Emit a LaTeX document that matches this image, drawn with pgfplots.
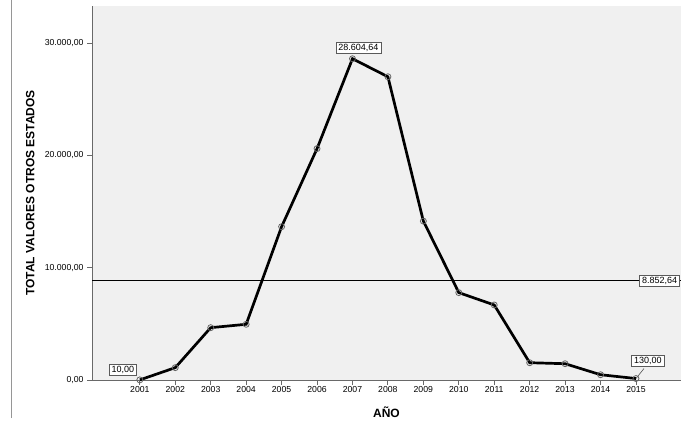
\documentclass[border=0pt]{standalone}
\usepackage{pgfplots}
\pgfplotsset{compat=1.18}
\usepackage{fontspec}
\setmainfont{Liberation Sans}
\definecolor{bggray}{RGB}{240,240,240}
\definecolor{axgray}{RGB}{105,105,105}
\definecolor{mkgray}{RGB}{100,100,100}
\definecolor{boxgray}{RGB}{90,90,90}
\begin{document}
\begin{tikzpicture}
\useasboundingbox (0,0) rectangle (681pt,429pt);
\draw[axgray!70, line width=0.8pt] (11pt,11pt) -- (11pt,429pt);
\begin{axis}[
  at={(92pt,49pt)}, anchor=south west,
  scale only axis, width=589pt, height=374pt,
  xmin=1999.65, xmax=2016.27, ymin=0, ymax=33300,
  axis x line*=bottom, axis y line*=left,
  axis line style={axgray, line width=0.8pt, -},
  axis background/.style={fill=bggray},
  clip=false,
  xtick={2001,2002,...,2015},
  ytick={0,10000,20000,30000},
  tick align=outside,
  major tick length=5pt,
  tick style={axgray, line width=0.8pt},
  scaled y ticks=false,
  /pgf/number format/assume math mode=true,
  ticklabel style={font=\fontsize{8.7}{10}\selectfont},
  xticklabel style={/pgf/number format/1000 sep={}, inner sep=1pt},
  yticklabel style={/pgf/number format/.cd, fixed, fixed zerofill, precision=2, use comma, 1000 sep={.}},
  ylabel={\textbf{TOTAL VALORES OTROS ESTADOS}},
  xlabel={\textbf{AÑO}},
  label style={font=\fontsize{12}{14}\selectfont},
  ylabel style={at={(axis description cs:-0.105,0.5)}, anchor=center},
  xlabel style={at={(axis description cs:0.5,-0.0856)}, anchor=center},
]
\addplot[black, line width=1.2pt] coordinates {(1999.65,8852.64) (2016.27,8852.64)};
\addplot[black, line width=2.7pt, mark=o, mark size=3pt,
  mark options={draw=mkgray, line width=0.8pt, fill=none}] coordinates {
  (2001,10) (2002,1100) (2003,4660) (2004,4960) (2005,13650)
  (2006,20600) (2007,28604.64) (2008,27000) (2009,14150) (2010,7780)
  (2011,6680) (2012,1540) (2013,1450) (2014,470) (2015,130)};
\tikzset{lbl/.style={draw=boxgray, fill=white, line width=0.6pt, inner xsep=2.5pt, inner ysep=2pt, font=\fontsize{9}{10}\selectfont}}
\node[lbl] at ([shift={(-17pt,10pt)}]axis cs:2001,10) {10,00};
\node[lbl] at ([shift={(6pt,11pt)}]axis cs:2007,28604.64) {28.604,64};
\draw[boxgray, line width=0.6pt] (axis cs:2015,130) -- ([shift={(8pt,10pt)}]axis cs:2015,130);
\node[lbl] at ([shift={(12pt,18pt)}]axis cs:2015,130) {130,00};
\node[lbl, anchor=east] at ([xshift=-1pt]rel axis cs:1,0.2658) {8.852,64};
\end{axis}
\end{tikzpicture}
\end{document}
